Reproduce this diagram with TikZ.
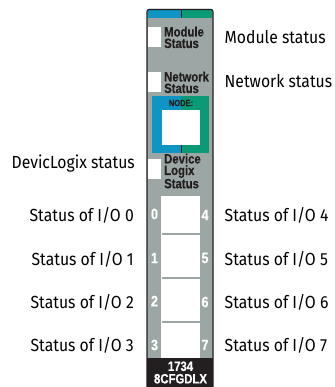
\documentclass[tikz,border=0pt]{standalone}
\usepackage{fontspec}
\setmainfont[FakeStretch=0.9]{Fira Sans}
\newfontfamily\modfont[FakeStretch=0.84,BoldFeatures={FakeBold=0.5,FakeStretch=0.84}]{Liberation Sans}
\definecolor{modgray}{HTML}{9CA6A4}
\definecolor{modblue}{HTML}{0F95C4}
\definecolor{modgreen}{HTML}{0A9A76}
\definecolor{modblack}{HTML}{231F20}
\tikzset{
  x=1pt,y=-1pt,
  callout/.style={inner sep=0pt,font=\fontsize{17.5}{19}\selectfont,text=black},
  calloutl/.style={callout,anchor=west},
  calloutr/.style={callout,anchor=east},
  modlabel/.style={inner sep=0pt,anchor=north west,align=left,text=modblack,font=\modfont\bfseries\fontsize{13.5}{11.5}\selectfont},
  iolabel/.style={inner sep=0pt,text=white,font=\modfont\bfseries\fontsize{15}{15}\selectfont},
  lamp/.style={fill=white,draw=none},
}
\begin{document}
\begin{tikzpicture}
\useasboundingbox (0,0) rectangle (334,387);
% body
\fill[modgray] (147,13) [rounded corners=2pt] -- (147,9) -- (213,9) -- (213,13) [sharp corners] -- (213,387) -- (147,387) -- cycle;
\fill[modblue] (148,10) rectangle (181,18);
\fill[modgreen] (181,10) rectangle (212,18);
\draw[modblack,line width=1pt] (181,10) -- (181,18);
\draw[modblack,line width=1.1pt,rounded corners=2pt] (147,387) -- (147,9.5) -- (213,9.5) -- (213,387);
% black band
\fill[modblack] (147,358) rectangle (213,387);
\node[inner sep=0pt,text=white,align=center,font=\modfont\bfseries\fontsize{13.5}{12.5}\selectfont] (model) at (180.5,372.5) {1734\\8CFGDLX};
% status lamps
\fill[lamp] (148,27) rectangle (161,47);
\fill[lamp] (148,72) rectangle (161,92);
\fill[lamp] (148,159) rectangle (161,179);
\node[modlabel] (mod) at (164,26.5) {Module\\Status};
\node[modlabel] (net) at (164,71.5) {Network\\Status};
\node[modlabel] (dev) at (164,153.5) {Device\\Logix\\Status};
% node frame
\fill[modblue] (152,96) rectangle (181,153);
\fill[modgreen] (181,96) rectangle (209,153);
\draw[modblack,line width=1pt] (181,145) -- (181,153);
\fill[white] (162,110) rectangle (200,145);
\node[inner sep=0pt,text=modblack,font=\modfont\bfseries\fontsize{9}{9}\selectfont] (nodelbl) at (181,103) {NODE:};
% I/O window
\fill[white] (161,196) rectangle (200,358);
\fill[modgray] (162,233.2) rectangle (200,235);
\fill[modgray] (162,277.2) rectangle (200,279);
\fill[modgray] (162,321.2) rectangle (200,323);
\node[iolabel] (n0) at (154.5,214) {0};
\node[iolabel] (n1) at (154.5,258) {1};
\node[iolabel] (n2) at (154.5,301) {2};
\node[iolabel] (n3) at (154.5,345) {3};
\node[iolabel] (n4) at (205,215) {4};
\node[iolabel] (n5) at (205,258) {5};
\node[iolabel] (n6) at (205,302) {6};
\node[iolabel] (n7) at (205,345) {7};
% callouts
\node[calloutl] (a) at (224.5,37) {Module status};
\node[calloutl] (b) at (224.5,81) {Network status};
\node[calloutr] (c) at (135,164) {DevicLogix status};
\node[calloutr] (d0) at (134,215) {Status of I/O 0};
\node[calloutr] (d1) at (134,259) {Status of I/O 1};
\node[calloutr] (d2) at (134,302) {Status of I/O 2};
\node[calloutr] (d3) at (134,345) {Status of I/O 3};
\node[calloutl] (e4) at (224.5,215) {Status of I/O 4};
\node[calloutl] (e5) at (224.5,259) {Status of I/O 5};
\node[calloutl] (e6) at (224.5,302) {Status of I/O 6};
\node[calloutl] (e7) at (224.5,345) {Status of I/O 7};
\end{tikzpicture}
\end{document}
